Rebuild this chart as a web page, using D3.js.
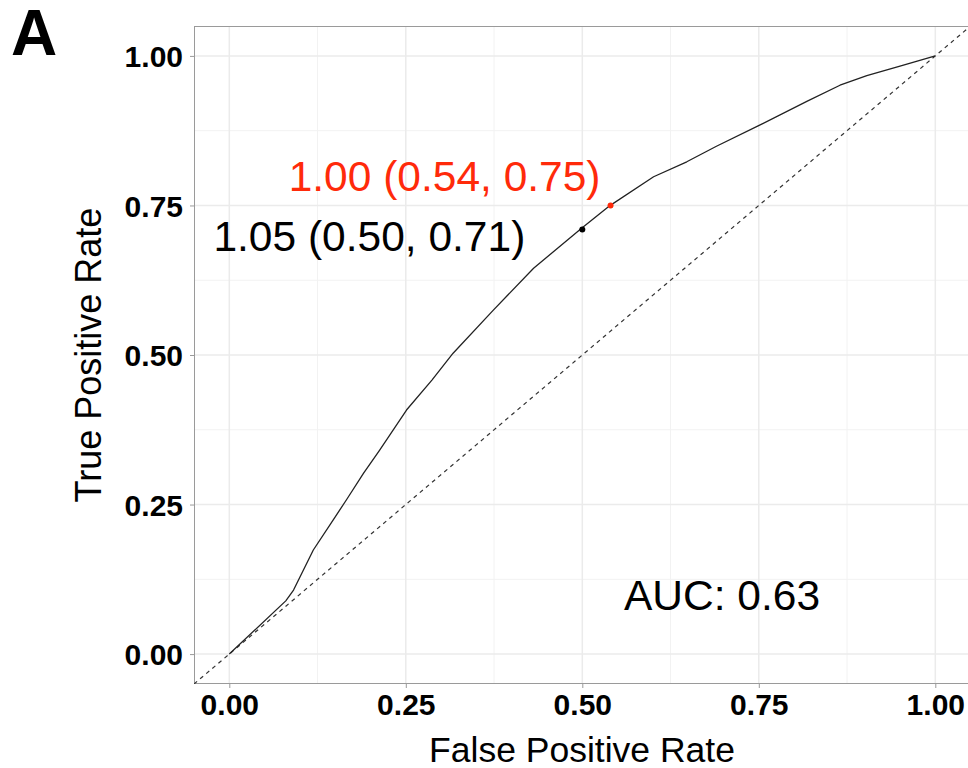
<!DOCTYPE html>
<html>
<head>
<meta charset="utf-8">
<script src="https://cdn.jsdelivr.net/npm/d3@7"></script>
<style>
  html, body { margin: 0; padding: 0; background: #fff; }
  svg { display: block; font-family: "Liberation Sans", Arial, Helvetica, sans-serif; }
</style>
</head>
<body>
<svg id="chart" width="968" height="768"></svg>
<script>
// ROC curve: false positive rate vs true positive rate
const fpr = [0, 0.080, 0.091, 0.119, 0.147, 0.166, 0.190, 0.213, 0.251, 0.287, 0.317, 0.374, 0.431, 0.499, 0.537, 0.601, 0.648, 0.690, 0.749, 0.818, 0.865, 0.903, 0.950, 1.0];
const tpr = [0, 0.089, 0.107, 0.174, 0.224, 0.258, 0.302, 0.341, 0.408, 0.458, 0.503, 0.575, 0.645, 0.712, 0.748, 0.798, 0.823, 0.849, 0.883, 0.924, 0.951, 0.967, 0.983, 1.0];

// Highlighted thresholds: threshold, (FPR, TPR)
const thrLabels = ["1.00", "1.05"];
const thrFpr = [0.54, 0.50];
const thrTpr = [0.75, 0.71];
const thrColors = ["#ff2a0a", "#000000"];

const aucValue = 0.63;
const xTicks = [0, 0.25, 0.5, 0.75, 1];
const yTicks = [0, 0.25, 0.5, 0.75, 1];
const minorTicks = [0.125, 0.375, 0.625, 0.875];

const svg = d3.select("#chart");
const x = d3.scaleLinear().domain([-0.05, 1.05]).range([194, 970.6]);
const y = d3.scaleLinear().domain([-0.05, 1.05]).range([684, 26]);
const fmt = d3.format(".2f");

svg.append("defs").append("clipPath").attr("id", "panel")
  .append("rect").attr("x", 194).attr("y", 26).attr("width", 776.6).attr("height", 658);

const grid = svg.append("g");
// minor grid
grid.selectAll("line.mx").data(minorTicks).join("line")
  .attr("x1", d => x(d)).attr("x2", d => x(d)).attr("y1", 26).attr("y2", 684)
  .attr("stroke", "#f2f2f2").attr("stroke-width", 1);
grid.selectAll("line.my").data(minorTicks).join("line")
  .attr("y1", d => y(d)).attr("y2", d => y(d)).attr("x1", 194).attr("x2", 970.6)
  .attr("stroke", "#f2f2f2").attr("stroke-width", 1);
// major grid
grid.selectAll("line.gx").data(xTicks).join("line")
  .attr("x1", d => x(d)).attr("x2", d => x(d)).attr("y1", 26).attr("y2", 684)
  .attr("stroke", "#ebebeb").attr("stroke-width", 1.5);
grid.selectAll("line.gy").data(yTicks).join("line")
  .attr("y1", d => y(d)).attr("y2", d => y(d)).attr("x1", 194).attr("x2", 970.6)
  .attr("stroke", "#ebebeb").attr("stroke-width", 1.5);

// panel border
svg.append("rect").attr("x", 194.5).attr("y", 26.5).attr("width", 776).attr("height", 657)
  .attr("fill", "none").attr("stroke", "#9a9a9a").attr("stroke-width", 1);

const plot = svg.append("g").attr("clip-path", "url(#panel)");

// chance diagonal
plot.append("line")
  .attr("x1", x(-0.05)).attr("y1", y(-0.05)).attr("x2", x(1.05)).attr("y2", y(1.05))
  .attr("stroke", "#333").attr("stroke-width", 1.2).attr("stroke-dasharray", "4,4");

// ROC curve
const pts = fpr.map((d, i) => [d, tpr[i]]);
plot.append("path").datum(pts)
  .attr("fill", "none").attr("stroke", "#222").attr("stroke-width", 1.3)
  .attr("stroke-linejoin", "round")
  .attr("d", d3.line().x(d => x(d[0])).y(d => y(d[1])));

// threshold points
plot.selectAll("circle.thr").data(thrFpr).join("circle")
  .attr("cx", d => x(d)).attr("cy", (d, i) => y(thrTpr[i])).attr("r", 3)
  .attr("fill", (d, i) => thrColors[i]);

// threshold labels
const labelOffsets = [[-10, -14], [-57, 22]];
svg.selectAll("text.thr").data(thrLabels).join("text")
  .attr("x", (d, i) => x(thrFpr[i]) + labelOffsets[i][0])
  .attr("y", (d, i) => y(thrTpr[i]) + labelOffsets[i][1])
  .attr("text-anchor", "end").attr("font-size", 42.5)
  .attr("fill", (d, i) => thrColors[i])
  .text((d, i) => `${d} (${fmt(thrFpr[i])}, ${fmt(thrTpr[i])})`);

// AUC label
svg.append("text").attr("x", 624).attr("y", 610).attr("font-size", 42.5)
  .attr("fill", "#000").text(`AUC: ${fmt(aucValue)}`);

// axes
const xAxis = svg.append("g").attr("transform", "translate(0,684)")
  .call(d3.axisBottom(x).tickValues(xTicks).tickFormat(fmt).tickSize(4).tickPadding(6));
const yAxis = svg.append("g").attr("transform", "translate(194,0)")
  .call(d3.axisLeft(y).tickValues(yTicks).tickFormat(fmt).tickSize(4).tickPadding(7));
[xAxis, yAxis].forEach(a => {
  a.select(".domain").remove();
  a.selectAll(".tick line").attr("stroke", "#9a9a9a");
  a.selectAll(".tick text").attr("font-size", 30).attr("font-weight", "bold")
    .attr("fill", "#000").attr("font-family", "'Liberation Sans', Arial, sans-serif");
});
yAxis.selectAll(".tick text").attr("dy", "0.36em");

// axis titles
svg.append("text").attr("x", 582).attr("y", 762).attr("text-anchor", "middle")
  .attr("font-size", 35.5).attr("fill", "#000").text("False Positive Rate");
svg.append("text").attr("transform", "translate(101,355) rotate(-90)").attr("text-anchor", "middle")
  .attr("font-size", 36).attr("fill", "#000").text("True Positive Rate");

// panel tag
svg.append("text").attr("x", 11).attr("y", 55).attr("font-size", 64).attr("font-weight", "bold")
  .attr("fill", "#000").text("A");
</script>
</body>
</html>
